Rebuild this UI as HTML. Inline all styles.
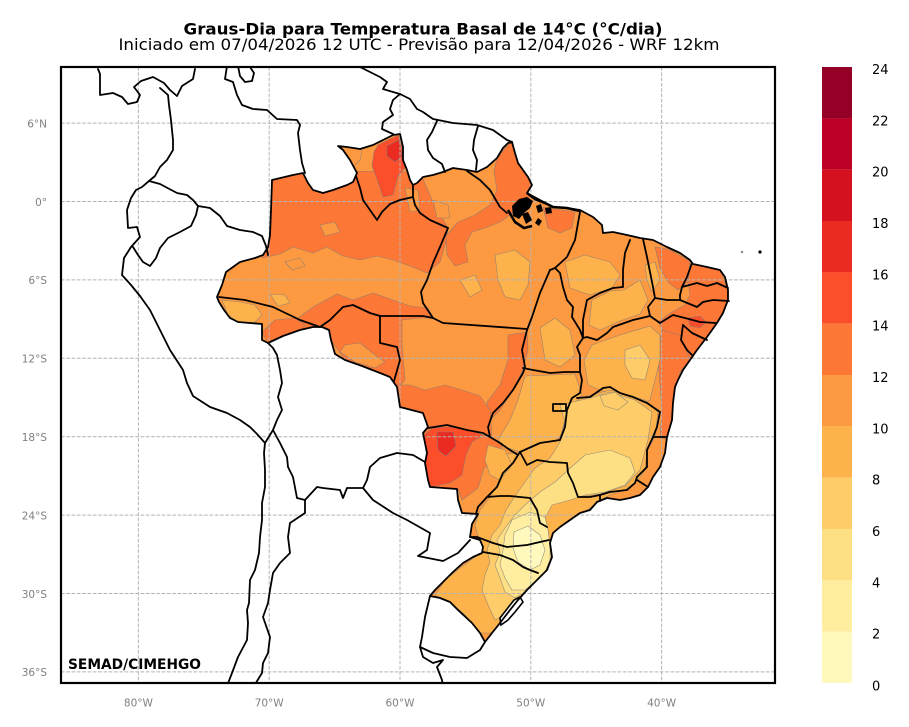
<!DOCTYPE html>
<html><head><meta charset="utf-8"><style>
html,body{margin:0;padding:0;background:#fff;overflow:hidden;}
svg{display:block;}
</style></head><body>
<svg width="909" height="727" viewBox="0 0 909 727" xmlns="http://www.w3.org/2000/svg">
<defs>
<clipPath id="fr"><rect x="61" y="67" width="714" height="616"/></clipPath>
<clipPath id="br"><path d="M217,297 L222,285 L226,272 L240,262 L255,258 L263,255 L268,247 L270,235 L271,210 L272,180 L293,175 L303,173 L308,183 L313,190 L323,193 L333,190 L347,185 L353,182 L357,173 L350,160 L343,150 L338,146 L347,147 L360,149 L373,145 L383,140 L393,135 L400,134 L403,147 L403,160 L407,170 L410,180 L413,185 L417,183 L423,177 L433,175 L443,172 L453,168 L467,170 L477,172 L487,167 L497,158 L503,148 L508,143 L512,142 L515,153 L518,163 L523,170 L528,177 L532,185 L527,193 L540,200 L553,207 L567,208 L580,210 L593,217 L602,225 L603,233 L613,232 L627,235 L640,238 L653,240 L667,247 L680,253 L690,260 L693,264 L707,267 L720,270 L725,277 L728,290 L728,300 L723,313 L717,323 L707,337 L697,350 L690,360 L683,370 L678,380 L675,387 L673,403 L672,420 L667,437 L665,453 L660,467 L653,477 L648,487 L640,495 L630,498 L620,500 L607,498 L597,502 L590,510 L580,513 L570,520 L560,527 L553,533 L550,543 L552,557 L547,570 L537,580 L527,590 L518,600 L510,610 L500,623 L492,633 L485,642 L480,633 L472,623 L458,610 L450,602 L440,598 L430,596 L435,590 L443,582 L453,572 L463,563 L473,557 L482,553 L483,547 L480,540 L470,537 L472,524 L478,514 L462,513 L458,500 L457,489 L430,487 L428,480 L425,463 L427,453 L423,433 L428,427 L423,413 L400,407 L397,387 L390,377 L380,373 L362,366 L345,360 L335,354 L331,340 L329,330 L322,327 L313,327 L300,330 L283,336 L268,343 L262,340 L262,324 L250,323 L238,322 L230,318 L224,310 L219,302 Z"/></clipPath>
</defs>
<rect width="909" height="727" fill="#fff"/>

<!-- Title -->
<text x="423" y="34.5" text-anchor="middle" font-family="DejaVu Sans, Liberation Sans, sans-serif" font-weight="bold" font-size="16" textLength="479" lengthAdjust="spacingAndGlyphs">Graus-Dia para Temperatura Basal de 14°C (°C/dia)</text>
<text x="419" y="50" text-anchor="middle" font-family="DejaVu Sans, Liberation Sans, sans-serif" font-size="16" textLength="601" lengthAdjust="spacingAndGlyphs">Iniciado em 07/04/2026 12 UTC - Previsão para 12/04/2026 - WRF 12km</text>

<g clip-path="url(#fr)">
  <!-- Brazil base -->
  <rect x="200" y="120" width="540" height="540" fill="#fd9941" clip-path="url(#br)"/>
  <g clip-path="url(#br)" stroke="#7a7a7a" stroke-width="0.6" stroke-opacity="0.8" stroke-linejoin="round">
    <!-- dark 12-14 -->
    <path fill="#fd7836" d="M265,170 L420,172 L432,200 L448,228 L446,242 L440,262 L427,273 L410,266 L393,260 L377,256 L360,260 L343,256 L327,247 L313,253 L293,247 L280,254 L262,258 Z"/>
    <path fill="#fd7836" d="M497,158 L512,140 L520,160 L530,182 L533,195 L520,205 L510,215 L500,222 L485,228 L472,232 L465,245 L468,262 L455,266 L447,255 L446,236 L458,222 L475,215 L490,205 L497,190 L494,172 Z"/>
    <path fill="#fd7836" d="M543,207 L575,212 L572,228 L560,233 L548,228 Z"/>
    <path fill="#fd7836" d="M298,318 L313,307 L337,294 L353,300 L373,293 L393,300 L410,306 L428,308 L433,318 L420,318 L402,320 L402,345 L405,380 L396,390 L380,373 L345,360 L331,340 L329,330 L300,333 Z"/>
    <path fill="#fd7836" d="M262,332 L275,320 L295,318 L305,325 L300,333 L283,338 L268,344 Z"/>
    <path fill="#fd7836" d="M508,335 L527,332 L528,350 L522,372 L512,392 L500,410 L490,420 L487,402 L500,385 L508,360 Z"/>
    <path fill="#fd7836" d="M397,385 L410,385 L425,390 L445,385 L462,390 L480,396 L490,410 L492,440 L483,433 L467,430 L447,425 L428,428 L423,413 L400,407 Z"/>
    <path fill="#fd7836" d="M423,428 L447,425 L490,437 L502,445 L498,460 L484,468 L478,488 L462,500 L458,489 L430,487 L425,463 L427,453 L423,433 Z"/>
    <path fill="#fd7836" d="M655,247 L668,249 L690,261 L688,282 L678,290 L668,282 L660,268 Z"/>
    <path fill="#fd7836" d="M690,262 L707,267 L720,270 L728,290 L728,300 L723,313 L717,323 L707,337 L697,350 L690,360 L683,370 L676,372 L670,350 L664,332 L658,322 L672,312 L685,305 L690,295 L688,282 Z"/>
    <path fill="#fd7836" d="M662,330 L680,335 L690,360 L680,372 L677,395 L673,420 L667,440 L660,437 L662,410 L660,385 L658,355 Z"/>
    <!-- medium patches inside dark -->
    <path fill="#fd9941" d="M338,146 L352,148 L362,150 L360,160 L352,168 L345,160 Z"/>
    <path fill="#fd9941" d="M405,188 L418,190 L420,210 L410,212 Z"/>
    <path fill="#fd9941" d="M433,200 L448,205 L450,218 L437,218 Z"/>
    <path fill="#fd9941" d="M345,345 L360,343 L375,355 L385,362 L375,368 L355,362 L340,352 Z"/>
    <path fill="#fd9941" d="M285,262 L300,258 L305,266 L292,270 Z"/>
    <path fill="#fd9941" d="M320,225 L335,222 L340,232 L325,236 Z"/>
    <!-- light 8-10 -->
    <path fill="#feb24c" d="M222,300 L240,302 L255,305 L262,315 L252,325 L238,322 L228,315 Z"/>
    <path fill="#feb24c" d="M270,294 L285,295 L290,303 L278,306 Z"/>
    <path fill="#feb24c" d="M495,255 L515,250 L530,262 L528,285 L520,300 L505,297 L498,280 Z"/>
    <path fill="#feb24c" d="M460,280 L475,275 L482,290 L470,297 Z"/>
    <path fill="#feb24c" d="M565,262 L585,255 L610,262 L620,275 L612,288 L590,295 L570,288 Z"/>
    <path fill="#feb24c" d="M592,300 L610,291 L624,290 L640,280 L648,300 L640,314 L620,321 L600,330 L589,325 Z"/>
    <path fill="#feb24c" d="M540,328 L555,318 L570,330 L575,355 L560,367 L545,360 Z"/>
    <path fill="#feb24c" d="M645,265 L655,262 L660,280 L652,292 L647,280 Z"/>
    <path fill="#feb24c" d="M592,345 L620,335 L650,326 L660,335 L660,360 L655,380 L650,400 L640,405 L620,396 L600,390 L588,385 L584,360 Z"/>
    <path fill="#feb24c" d="M525,376 L575,374 L582,395 L570,410 L565,430 L555,442 L520,452 L505,447 L498,440 L510,420 L518,400 Z"/>
    <path fill="#feb24c" d="M500,455 L520,452 L540,443 L560,440 L567,410 L580,398 L610,390 L645,400 L658,412 L655,437 L647,450 L645,470 L638,480 L625,490 L610,495 L600,500 L585,512 L560,527 L550,545 L552,557 L545,570 L530,590 L510,610 L492,633 L480,633 L465,615 L450,602 L435,595 L445,580 L460,568 L475,557 L480,545 L475,525 L480,510 L490,497 L500,480 Z"/>
    <path fill="#feb24c" d="M488,445 L505,450 L512,465 L500,480 L490,475 L485,460 Z"/>
    <!-- 6-8 -->
    <path fill="#fecc68" d="M560,405 L590,398 L610,392 L635,400 L652,412 L648,440 L640,470 L625,486 L600,494 L578,497 L560,502 L545,506 L535,512 L532,522 L548,530 L550,545 L552,557 L545,570 L530,590 L515,605 L505,615 L495,620 L488,605 L482,590 L485,575 L490,562 L487,550 L492,535 L500,525 L506,510 L515,496 L525,482 L535,468 L550,458 L560,442 L565,422 Z"/>
    <path fill="#fecc68" d="M625,350 L640,345 L650,360 L645,380 L632,378 L625,365 Z"/>
    <path fill="#fecc68" d="M600,396 L615,392 L628,402 L618,410 L604,406 Z"/>
    <!-- 4-6 -->
    <path fill="#fee084" d="M585,455 L610,450 L630,458 L635,472 L625,485 L605,492 L585,495 L570,500 L552,505 L545,518 L548,535 L550,550 L548,565 L540,578 L528,590 L515,598 L505,592 L500,578 L495,565 L500,552 L497,540 L505,528 L515,515 L525,505 L540,492 L555,482 L568,470 Z"/>
    <!-- 2-4 -->
    <path fill="#ffeda0" d="M512,520 L530,512 L545,517 L548,530 L550,545 L550,560 L545,572 L535,582 L525,590 L512,590 L505,578 L500,565 L503,550 L505,535 Z"/>
    <!-- 0-2 -->
    <path fill="#fff9bd" d="M514,532 L528,526 L540,535 L545,550 L540,565 L530,570 L518,562 L513,548 Z"/>
    <!-- reds -->
    <path fill="#fc4e2a" d="M433,428 L450,427 L470,430 L483,435 L472,442 L466,455 L462,475 L450,483 L430,487 L428,480 L425,463 L427,453 L423,436 Z"/>
    <path fill="#eb2b21" d="M437,432 L453,432 L456,446 L446,456 L438,450 Z"/>
    <path fill="#fc4e2a" d="M378,145 L398,135 L403,150 L405,168 L398,176 L393,195 L383,197 L378,182 L372,166 L374,152 Z"/>
    <path fill="#eb2b21" d="M387,146 L399,140 L402,156 L395,162 L387,156 Z"/>
    <path fill="#fc4e2a" d="M688,318 L700,316 L706,322 L700,328 L690,326 Z"/>
  </g>

  <!-- gridlines -->
  <g stroke="#b4b4b4" stroke-width="1" stroke-dasharray="3.7,1.6" fill="none">
    <line x1="138.4" y1="67" x2="138.4" y2="683"/>
    <line x1="269.2" y1="67" x2="269.2" y2="683"/>
    <line x1="400" y1="67" x2="400" y2="683"/>
    <line x1="530.8" y1="67" x2="530.8" y2="683"/>
    <line x1="661.6" y1="67" x2="661.6" y2="683"/>
    <line x1="61" y1="123.1" x2="775" y2="123.1"/>
    <line x1="61" y1="201.5" x2="775" y2="201.5"/>
    <line x1="61" y1="279.9" x2="775" y2="279.9"/>
    <line x1="61" y1="358.3" x2="775" y2="358.3"/>
    <line x1="61" y1="436.7" x2="775" y2="436.7"/>
    <line x1="61" y1="515.1" x2="775" y2="515.1"/>
    <line x1="61" y1="593.5" x2="775" y2="593.5"/>
    <line x1="61" y1="671.9" x2="775" y2="671.9"/>
  </g>

  <!-- Marajó black cluster -->
  <g fill="#000">
    <path d="M512,206 L519,199 L527,197 L533,201 L530,208 L524,213 L519,219 L513,216 Z"/>
    <path d="M522,214 L528,212 L532,220 L526,224 Z"/>
    <path d="M536,206 L541,204 L543,211 L538,213 Z"/>
    <path d="M545,208 L551,207 L552,213 L546,214 Z"/>
    <path d="M538,218 L542,221 L539,226 L535,223 Z"/>
  </g>
  <g fill="none" stroke="#000" stroke-width="2.6" stroke-linejoin="round">
    <path d="M527,193 L535,199 L545,203 L553,207 L567,208 L580,211"/>
    <path d="M508,210 L515,222 L524,228 L532,226"/>
  </g>

  <!-- Lagoa dos Patos -->
  <path d="M520,597 L523,602 L515,612 L508,620 L501,625 L500,618 L507,609 L514,600 Z" fill="#fff" stroke="#000" stroke-width="1.6"/>

  <!-- borders -->
  <g fill="none" stroke="#000" stroke-width="1.8" stroke-linejoin="round" stroke-linecap="round">
    <!-- Brazil outline -->
    <path d="M217,297 L222,285 L226,272 L240,262 L255,258 L263,255 L268,247 L270,235 L271,210 L272,180 L293,175 L303,173 L308,183 L313,190 L323,193 L333,190 L347,185 L353,182 L357,173 L350,160 L343,150 L338,146 L347,147 L360,149 L373,145 L383,140 L393,135 L400,134 L403,147 L403,160 L407,170 L410,180 L413,185 L417,183 L423,177 L433,175 L443,172 L453,168 L467,170 L477,172 L487,167 L497,158 L503,148 L508,143 L512,142 L515,153 L518,163 L523,170 L528,177 L532,185 L527,193 L540,200 L553,207 L567,208 L580,210 L593,217 L602,225 L603,233 L613,232 L627,235 L640,238 L653,240 L667,247 L680,253 L690,260 L693,264 L707,267 L720,270 L725,277 L728,290 L728,300 L723,313 L717,323 L707,337 L697,350 L690,360 L683,370 L678,380 L675,387 L673,403 L672,420 L667,437 L665,453 L660,467 L653,477 L648,487 L640,495 L630,498 L620,500 L607,498 L597,502 L590,510 L580,513 L570,520 L560,527 L553,533 L550,543 L552,557 L547,570 L537,580 L527,590 L518,600 L510,610 L500,623 L492,633 L485,642 L480,633 L472,623 L458,610 L450,602 L440,598 L430,596 L435,590 L443,582 L453,572 L463,563 L473,557 L482,553 L483,547 L480,540 L470,537 L472,524 L478,514 L462,513 L458,500 L457,489 L430,487 L428,480 L425,463 L427,453 L423,433 L428,427 L423,413 L400,407 L397,387 L390,377 L380,373 L362,366 L345,360 L335,354 L331,340 L329,330 L322,327 L313,327 L300,330 L283,336 L268,343 L262,340 L262,324 L250,323 L238,322 L230,318 L224,310 L219,302 Z"/>
    <!-- other countries -->
    <path d="M98,69 L100,74 L100,95 L113,93 L122,97 L128,104 L137,102 L140,95 L134,87 L141,81 L153,77 L164,83 L170,90 L177,96 L182,86 L193,79 L195,69"/>
    <path d="M160,88 L168,95 L169,105 L171,120 L173,140 L173,150 L167,160 L160,167 L155,176 L149,181 L142,187 L136,190 L131,198 L127,210 L128,228 L137,227 L140,237 L131,247 L124,258 L122,275 L131,285 L140,296 L150,310 L160,330 L170,350 L183,370 L187,383 L193,396 L210,407 L227,413 L240,420 L250,427 L257,434 L265,443 L264,453 L265,470 L265,487 L262,503 L262,520 L260,537 L259,553 L255,570 L250,580 L249,603 L247,610 L248,623 L247,640 L238,657 L232,673 L227,686"/>
    <path d="M227,66 L225,79 L233,82 L237,95 L242,105 L253,109 L267,110 L277,119 L297,120 L300,125 L298,133 L300,150 L302,163 L305,173"/>
    <path d="M238,66 L240,76 L245,82 L252,81 L254,73 L250,67"/>
    <path d="M300,67 L327,67 L360,67 L370,72 L380,77 L387,82 L383,89 L393,92 L400,94 L410,99 L417,109 L423,112 L433,119 L453,123 L477,125 L493,130 L507,140 L512,142"/>
    <path d="M400,94 L393,100 L390,109 L393,115 L383,122 L382,129 L393,134"/>
    <path d="M437,121 L432,132 L427,140 L428,150 L433,158 L442,164 L445,172"/>
    <path d="M478,126 L474,140 L473,150 L477,160 L476,170"/>
    <path d="M149,181 L160,184 L177,193 L187,195 L193,200 L198,206"/>
    <path d="M198,206 L210,208 L220,216 L227,226 L240,230 L253,232 L262,236 L266,246 L268,255"/>
    <path d="M198,206 L196,215 L191,226 L180,232 L168,238 L160,248 L156,258 L150,266 L143,262 L138,255 L133,247"/>
    <path d="M268,343 L273,348 L277,355 L280,370 L282,383 L278,397 L282,410 L277,420 L273,430"/>
    <path d="M265,443 L273,430 L280,443 L287,457 L288,467 L293,477 L297,498 L305,500 L305,513 L290,523 L288,537 L290,553 L280,563 L273,573 L270,590 L268,603 L263,617 L270,637 L268,653 L263,663 L262,673 L254,686"/>
    <path d="M305,500 L317,487 L323,488 L340,490 L343,498 L347,488 L363,488"/>
    <path d="M363,488 L367,480 L370,467 L380,458 L397,453 L413,455 L425,462"/>
    <path d="M363,488 L373,500 L393,513 L407,520 L430,533 L427,550 L418,556 L443,561 L458,553 L470,540"/>
    <path d="M430,596 L425,617 L422,637 L420,647 L433,653 L450,657 L467,658 L480,650 L485,642"/>
    <path d="M420,647 L423,657 L433,663 L443,660 L437,667 L442,680 L443,686"/>
    <!-- states -->
    <path d="M219,297 L245,300 L273,307 L300,320 L320,327"/>
    <path d="M320,327 L330,320 L343,307 L353,305 L370,313 L380,316"/>
    <path d="M380,316 L380,343 L397,347 L400,360 L394,381"/>
    <path d="M380,316 L423,316 L433,318"/>
    <path d="M413,186 L413,197 L415,205 L420,213 L430,220 L448,228 L440,247 L433,263 L427,280 L421,292 L423,303 L433,318"/>
    <path d="M356,176 L360,188 L363,200 L370,210 L377,220 L382,212 L390,204 L400,200 L413,197"/>
    <path d="M433,318 L443,323 L527,329"/>
    <path d="M467,171 L480,180 L490,190 L500,207 L507,213"/>
    <path d="M580,212 L575,240 L567,257 L555,268 L550,270"/>
    <path d="M550,270 L540,293 L532,317 L527,330 L522,350 L525,367 L523,373 L513,390 L503,403 L493,413 L488,427 L490,437"/>
    <path d="M555,268 L560,273 L563,287 L567,300 L573,307 L572,317 L580,330 L583,338"/>
    <path d="M583,338 L577,347 L580,355 L580,372"/>
    <path d="M523,368 L533,370 L550,373 L565,372 L580,372"/>
    <path d="M580,372 L582,380 L580,393 L572,398 L567,410 L565,427 L560,440 L540,443 L520,452"/>
    <path d="M490,437 L500,443 L510,450 L518,455 L520,452"/>
    <path d="M428,428 L447,425 L467,430 L483,433 L490,437"/>
    <path d="M518,455 L513,463 L503,473 L497,487 L487,497"/>
    <path d="M487,497 L478,507 L476,514"/>
    <path d="M487,497 L500,496 L510,496 L530,498 L537,510 L540,523 L547,527"/>
    <path d="M470,537 L477,537 L493,543 L507,547 L527,545 L540,542 L549,540"/>
    <path d="M483,552 L500,555 L513,560 L523,567 L530,570 L538,573"/>
    <path d="M520,452 L527,465 L537,460 L550,462 L567,463 L568,473 L573,483 L578,497 L590,497 L600,495 L600,501"/>
    <path d="M600,495 L610,492 L627,490 L635,483 L637,477"/>
    <path d="M637,477 L642,472 L647,467 L647,450 L653,437"/>
    <path d="M637,480 L648,487"/>
    <path d="M577,398 L590,397 L603,388 L610,387 L620,393 L633,397 L647,403 L660,412 L657,427 L653,437 L667,437"/>
    <path d="M583,338 L587,337 L597,340 L607,333 L613,327 L633,320 L650,316"/>
    <path d="M650,316 L660,323 L673,315 L685,318 L700,322 L716,323"/>
    <path d="M630,240 L625,253 L623,270 L623,287 L613,288 L600,293 L587,300 L583,320 L583,338"/>
    <path d="M643,239 L647,257 L653,287 L655,298 L648,307 L650,316"/>
    <path d="M655,298 L667,300 L680,300"/>
    <path d="M692,263 L687,277 L682,287 L680,295 L680,300"/>
    <path d="M682,287 L697,283 L707,286 L717,283 L728,288"/>
    <path d="M680,300 L697,307 L703,302 L713,300 L729,301"/>
    <path d="M683,325 L692,333 L707,340"/>
    <path d="M683,325 L681,340 L687,350 L693,356"/>
    <rect x="553" y="404" width="13" height="7"/>
  </g>
  <circle cx="742" cy="252" r="1.2" fill="#888"/>
  <circle cx="760" cy="252" r="1.6" fill="#000"/>

  <text x="68" y="669" font-family="DejaVu Sans, Liberation Sans, sans-serif" font-weight="bold" font-size="14" textLength="133" lengthAdjust="spacingAndGlyphs">SEMAD/CIMEHGO</text>
</g>

<!-- frame -->
<rect x="61" y="67" width="714" height="616" fill="none" stroke="#000" stroke-width="2.2"/>

<!-- axis labels -->
<g font-family="DejaVu Sans, Liberation Sans, sans-serif" font-size="10.5" fill="#808080">
  <g text-anchor="end">
    <text x="47" y="127.4">6°N</text>
    <text x="47" y="205.8">0°</text>
    <text x="47" y="284.2">6°S</text>
    <text x="47" y="362.6">12°S</text>
    <text x="47" y="441">18°S</text>
    <text x="47" y="519.4">24°S</text>
    <text x="47" y="597.8">30°S</text>
    <text x="47" y="676.2">36°S</text>
  </g>
  <g text-anchor="middle">
    <text x="138.4" y="706.7">80°W</text>
    <text x="269.2" y="706.7">70°W</text>
    <text x="400" y="706.7">60°W</text>
    <text x="530.8" y="706.7">50°W</text>
    <text x="661.6" y="706.7">40°W</text>
  </g>
</g>

<!-- colorbar -->
<g>
  <rect x="822" y="67" width="30" height="51.4" fill="#940026"/>
  <rect x="822" y="118.3" width="30" height="51.4" fill="#bd0026"/>
  <rect x="822" y="169.7" width="30" height="51.4" fill="#d6111f"/>
  <rect x="822" y="221" width="30" height="51.4" fill="#eb2b21"/>
  <rect x="822" y="272.3" width="30" height="51.4" fill="#fc4e2a"/>
  <rect x="822" y="323.7" width="30" height="51.4" fill="#fd7836"/>
  <rect x="822" y="375" width="30" height="51.4" fill="#fd9941"/>
  <rect x="822" y="426.3" width="30" height="51.4" fill="#feb24c"/>
  <rect x="822" y="477.7" width="30" height="51.4" fill="#fecc68"/>
  <rect x="822" y="529" width="30" height="51.4" fill="#fee084"/>
  <rect x="822" y="580.3" width="30" height="51.4" fill="#ffeda0"/>
  <rect x="822" y="631.7" width="30" height="51.3" fill="#fff9bd"/>
</g>
<g font-family="DejaVu Sans, Liberation Sans, sans-serif" font-size="13" fill="#000">
  <text x="872" y="74">24</text>
  <text x="872" y="125.3">22</text>
  <text x="872" y="176.7">20</text>
  <text x="872" y="228">18</text>
  <text x="872" y="279.3">16</text>
  <text x="872" y="330.7">14</text>
  <text x="872" y="382">12</text>
  <text x="872" y="433.3">10</text>
  <text x="872" y="484.7">8</text>
  <text x="872" y="536">6</text>
  <text x="872" y="587.3">4</text>
  <text x="872" y="638.7">2</text>
  <text x="872" y="690.5">0</text>
</g>
</svg>
</body></html>
